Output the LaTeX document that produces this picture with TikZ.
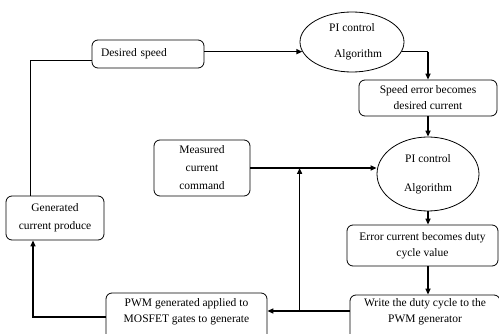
\documentclass[tikz,border=0pt]{standalone}
\usepackage{fontspec}
\setmainfont{Liberation Serif}
\usetikzlibrary{shapes.geometric,calc,arrows.meta}
\begin{document}
\begin{tikzpicture}[x=1pt,y=-1pt,
  box/.style={draw, rounded corners=6pt, line width=0.8pt, align=center, inner sep=0pt, font=\fontsize{11.5}{16}\selectfont},
  oval/.style={draw, ellipse, line width=0.8pt, align=center, inner sep=0pt, font=\fontsize{11.5}{16}\selectfont},
  arr/.style={-{Triangle[length=6pt,width=5pt]}, line width=1.5pt},
  thinline/.style={line width=0.9pt}]
\useasboundingbox (0,0) rectangle (499,334);
\fill[white] (0,0) rectangle (499,334);
\clip (0,0) rectangle (499,334);

\node[box, minimum width=112pt, minimum height=28pt, text width=94pt, align=left] (ds) at (148,54) {Desired speed};
\node[oval, minimum width=104pt, minimum height=60pt] (pi1) at (352,42) {PI control\\[10pt]\hspace*{12pt}Algorithm};
\node[box, minimum width=138pt, minimum height=36pt] (se) at (428,98) {Speed error becomes\\desired current};
\node[oval, minimum width=102pt, minimum height=74pt] (pi2) at (428,174) {PI control\\[13pt]Algorithm};
\node[box, minimum width=96pt, minimum height=56pt, font=\fontsize{11.5}{18}\selectfont] (meas) at (202,168) {Measured\\current\\command};
\node[box, minimum width=151pt, minimum height=41pt] (ec) at (422.5,245.5) {Error current becomes duty\\cycle value};
\node[box, minimum width=150pt, minimum height=52pt] (write) at (425,321) {Write the duty cycle to the\\PWM generator\\\strut};
\node[box, minimum width=161pt, minimum height=56pt] (pwm) at (186.5,321) {PWM generated applied to\\MOSFET gates to generate\\\strut};
\node[box, minimum width=98pt, minimum height=44pt, font=\fontsize{11.5}{18}\selectfont] (gen) at (55,218) {Generated\\current produce};

\coordinate (j) at ($(write.west)+(-50,-10)$);

\draw[thinline] ([yshift=-6pt]ds.west) -| ([xshift=-25pt]gen.north);
\draw[arr] (ds.east |- pi1.191) -- (pi1.191);
\draw[thinline] (pi1.-11) -- (pi1.-11 -| se.north);
\draw[arr] (pi1.-11 -| se.north) -- (se.north);
\draw[arr] (se.south) -- (pi2.north);
\draw[arr] (meas.east) -- (meas.east -| pi2.west);
\draw[arr] (pi2.south) -- (pi2.south |- ec.north);
\draw[arr] (pi2.south |- ec.south) -- (pi2.south |- write.north);
\draw[arr] ([yshift=10pt]write.west) -- ([yshift=10pt]write.west -| pwm.east);
\draw[arr] (j) -- (j |- meas.east);
\draw[arr] ([yshift=4pt]pwm.west) -| ([xshift=-22pt]gen.south);
\end{tikzpicture}
\end{document}
